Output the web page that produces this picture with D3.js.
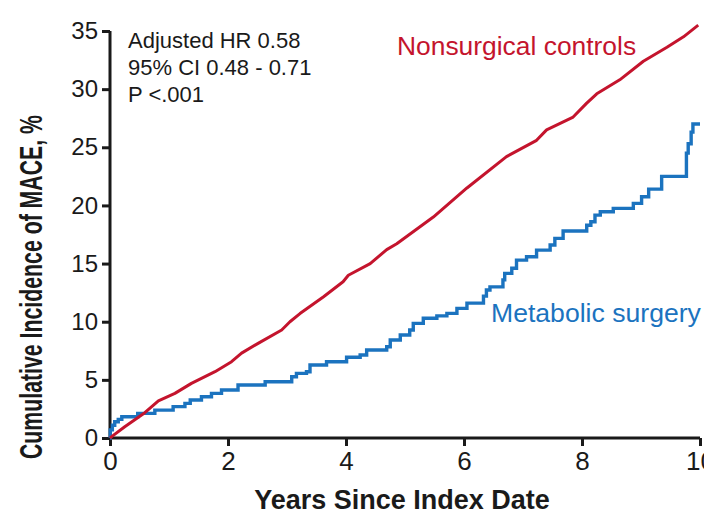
<!DOCTYPE html>
<html><head><meta charset="utf-8">
<script src="https://cdn.jsdelivr.net/npm/d3@7"></script>
<style>
html,body{margin:0;padding:0;background:#fff;}
svg{display:block;font-family:"Liberation Sans",Arial,sans-serif;}
</style></head>
<body>
<svg id="chart" width="704" height="513"></svg>
<script>
// Data (years since index date, cumulative incidence %)
const nonsurgicalYears = [0,0.05,0.25,0.59,0.82,1.1,1.38,1.78,2.06,2.23,2.51,2.91,3.05,3.22,3.62,3.95,4.04,4.41,4.69,4.86,5.48,6.05,6.72,7.23,7.40,7.85,8.08,8.25,8.64,9.04,9.44,9.72,9.97];
const nonsurgicalValues = [0,0.2,0.97,2.18,3.2,3.84,4.7,5.7,6.56,7.3,8.14,9.29,10.0,10.7,12.15,13.44,14.0,15.0,16.2,16.7,19.0,21.5,24.2,25.6,26.5,27.6,28.8,29.6,30.8,32.4,33.6,34.5,35.5];

const surgeryYears = [0,0.005,0.04,0.08,0.14,0.2,0.47,0.76,1.07,1.27,1.36,1.55,1.72,1.89,2.17,2.63,3.08,3.16,3.33,3.39,3.67,4.01,4.24,4.35,4.69,4.75,4.92,5.08,5.14,5.31,5.54,5.71,5.88,6.05,6.33,6.38,6.44,6.66,6.69,6.81,6.89,7.06,7.23,7.46,7.54,7.68,8.08,8.15,8.22,8.31,8.53,8.87,9.01,9.13,9.35,9.77,9.8,9.85,9.88,10];
const surgeryValues = [0,0.7,1.1,1.4,1.6,1.83,2.12,2.4,2.7,2.98,3.27,3.55,3.84,4.13,4.56,4.84,5.27,5.56,5.7,6.28,6.56,6.94,7.14,7.57,7.85,8.43,8.86,9.29,9.86,10.3,10.5,10.72,11.15,11.6,12.2,12.73,13.0,13.6,14.16,14.6,15.3,15.59,16.16,16.6,17.17,17.8,18.3,18.6,19.17,19.46,19.75,20.18,20.75,21.4,22.5,24.5,25.3,26.3,27.0,27.0];

const xTicks = [0,2,4,6,8,10];
const yTicks = [0,5,10,15,20,25,30,35];
const annotationLines = ["Adjusted HR 0.58","95% CI 0.48 - 0.71","P <.001"];
const seriesLabels = ["Nonsurgical controls","Metabolic surgery"];

const red = "#c4142d", blue = "#1b73bf";
const svg = d3.select("#chart");
const x = d3.scaleLinear().domain([0,10]).range([110,700]);
const y = d3.scaleLinear().domain([0,35]).range([438,31]);

// axes
const yAxis = svg.append("g").attr("transform","translate(110,0)")
  .call(d3.axisLeft(y).tickValues(yTicks).tickSize(8).tickPadding(4));
const xAxis = svg.append("g").attr("transform","translate(0,438)")
  .call(d3.axisBottom(x).tickValues(xTicks).tickSize(8).tickPadding(6));
[yAxis,xAxis].forEach(g=>{
  g.select(".domain").attr("stroke","#1a1a1a").attr("stroke-width",3);
  g.selectAll(".tick line").attr("stroke","#1a1a1a").attr("stroke-width",3);
  g.selectAll(".tick text").attr("fill","#1a1a1a").attr("font-family","Liberation Sans, Arial, sans-serif");
});
yAxis.select(".domain").attr("d","M0,"+y(0)+"V"+y(35));
xAxis.select(".domain").attr("d","M"+x(0)+",0H"+x(10));
yAxis.selectAll(".tick text").attr("font-size",24);
xAxis.selectAll(".tick text").attr("font-size",26);

// lines
const ns = nonsurgicalYears.map((t,i)=>[t,nonsurgicalValues[i]]);
const su = surgeryYears.map((t,i)=>[t,surgeryValues[i]]);
svg.append("path").datum(su).attr("fill","none").attr("stroke",blue).attr("stroke-width",3.4)
  .attr("d",d3.line().x(d=>x(d[0])).y(d=>y(d[1])).curve(d3.curveStepAfter));
svg.append("path").datum(ns).attr("fill","none").attr("stroke",red).attr("stroke-width",3)
  .attr("stroke-linejoin","round")
  .attr("d",d3.line().x(d=>x(d[0])).y(d=>y(d[1])));

// annotation
svg.append("g").selectAll("text").data(annotationLines).join("text")
  .attr("x",128).attr("y",(d,i)=>48+i*27).attr("font-size",22).attr("fill","#1a1a1a").text(d=>d);

svg.append("text").attr("x",397).attr("y",55).attr("font-size",26.4).attr("fill",red).text(seriesLabels[0]);
svg.append("text").attr("x",491).attr("y",322).attr("font-size",26.6).attr("fill",blue).text(seriesLabels[1]);

// axis titles
svg.append("text").attr("x",402).attr("y",509).attr("text-anchor","middle")
  .attr("font-size",27).attr("font-weight","bold").attr("fill","#1a1a1a").text("Years Since Index Date");
svg.append("text").attr("transform","translate(42,287) rotate(-90)").attr("text-anchor","middle")
  .attr("font-size",32).attr("font-weight","bold").attr("fill","#1a1a1a")
  .attr("textLength",344).attr("lengthAdjust","spacingAndGlyphs")
  .text("Cumulative Incidence of MACE, %");
</script>
</body></html>
